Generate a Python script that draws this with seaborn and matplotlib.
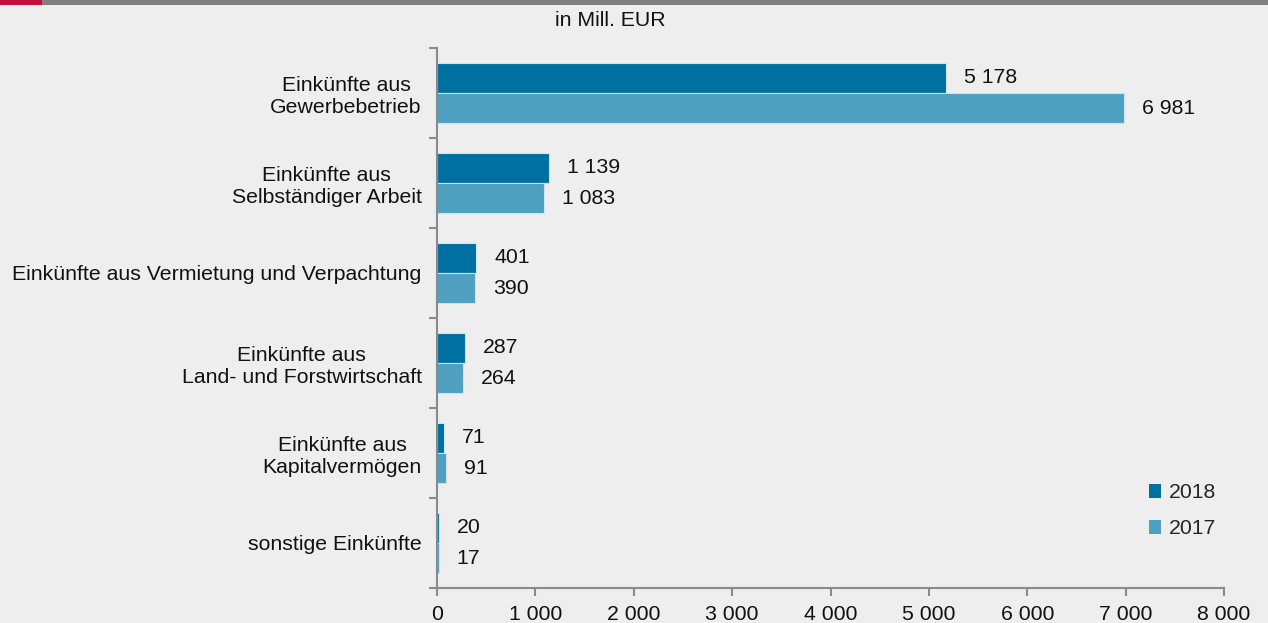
import matplotlib
matplotlib.use("Agg")
import matplotlib.pyplot as plt
import seaborn as sns
import pandas as pd
from matplotlib.patches import Rectangle, Patch
from matplotlib.ticker import FixedLocator

categories = [
    "Einkünfte aus\nGewerbebetrieb",
    "Einkünfte aus\nSelbständiger Arbeit",
    "Einkünfte aus Vermietung und Verpachtung",
    "Einkünfte aus\nLand- und Forstwirtschaft",
    "Einkünfte aus\nKapitalvermögen",
    "sonstige Einkünfte",
]
values_2018 = [5178, 1139, 401, 287, 71, 20]
values_2017 = [6981, 1083, 390, 264, 91, 17]
years = ["2018", "2017"]
x_ticks = [0, 1000, 2000, 3000, 4000, 5000, 6000, 7000, 8000]
title = "in Mill. EUR"

colors = {"2018": "#0070a0", "2017": "#4e9fc0"}
bg = "#eeeeee"
FS = 15.3

df = pd.DataFrame({
    "Kategorie": categories * 2,
    "Wert": values_2018 + values_2017,
    "Jahr": ["2018"] * len(categories) + ["2017"] * len(categories),
})

sns.set_theme(style="white")
plt.rcParams["font.family"] = ["Liberation Sans", "DejaVu Sans"]

fig = plt.figure(figsize=(12.68, 6.23), dpi=100, facecolor=bg)
ax = fig.add_axes([437 / 1268, 1 - 588 / 623, (1224 - 437) / 1268, 540 / 623])
ax.set_facecolor(bg)

sns.barplot(data=df, x="Wert", y="Kategorie", hue="Jahr", hue_order=years,
            order=categories, palette=colors, orient="h", width=0.667,
            saturation=1, edgecolor="#cfe2ec", linewidth=0.8, ax=ax, legend=False)

def fmt(v):
    return f"{v:,}".replace(",", " ")

for cont, vals in zip(ax.containers, [values_2018, values_2017]):
    ax.bar_label(cont, labels=[fmt(v) for v in vals], padding=13, fontsize=FS,
                 color="#111111")

ax.set_xlim(0, 8000)
ax.set_ylim(5.5, -0.5)
ax.set_xticks(x_ticks)
ax.set_xticklabels([fmt(v) for v in x_ticks], fontsize=FS, color="#111111")
ax.set_yticks(range(len(categories)))
ax.set_yticklabels(categories, fontsize=FS, color="#111111", multialignment="center")
ax.yaxis.set_minor_locator(FixedLocator([i - 0.5 for i in range(len(categories) + 1)]))
ax.tick_params(axis="y", which="major", length=0, pad=11)
ax.tick_params(axis="y", which="minor", length=6, width=1.5, color="#8a8a8a", left=True)
ax.tick_params(axis="x", which="major", length=6, width=1.5, color="#8a8a8a", pad=6, bottom=True)
ax.set_xlabel("")
ax.set_ylabel("")
for s in ["top", "right"]:
    ax.spines[s].set_visible(False)
for s in ["left", "bottom"]:
    ax.spines[s].set_color("#8a8a8a")
    ax.spines[s].set_linewidth(1.5)

handles = [Patch(facecolor=colors[y], edgecolor="none", label=y) for y in years]
fig.legend(handles=handles, loc="upper left", bbox_to_anchor=(1140 / 1268, 1 - 475 / 623),
           frameon=False, fontsize=FS, handlelength=0.6, handleheight=0.6,
           handletextpad=0.35, labelspacing=0.8, borderaxespad=0)

fig.text(610 / 1268, 1 - 20 / 623, title, ha="center", va="center", fontsize=FS,
         color="#111111")

fig.patches.append(Rectangle((0, 1 - 5 / 623), 1, 5 / 623, transform=fig.transFigure,
                             facecolor="#808080", edgecolor="none", zorder=5))
fig.patches.append(Rectangle((0, 1 - 5 / 623), 42 / 1268, 5 / 623, transform=fig.transFigure,
                             facecolor="#c0103c", edgecolor="none", zorder=6))

fig.savefig("out.png", dpi=100, facecolor=bg)
